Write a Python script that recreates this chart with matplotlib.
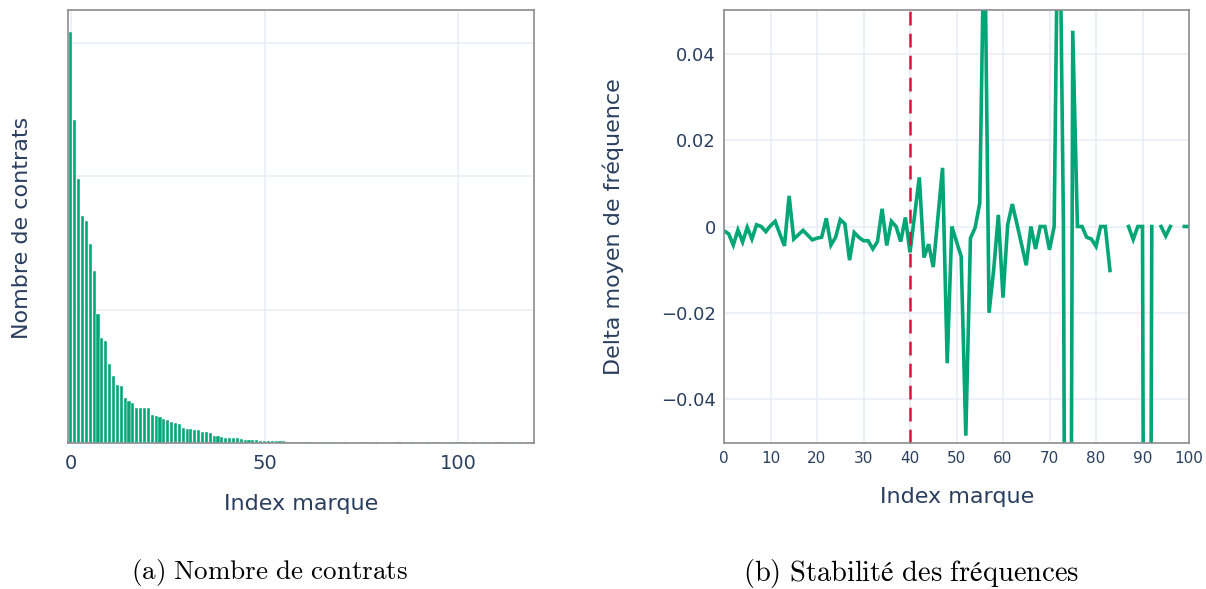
import numpy as np
import matplotlib
matplotlib.use("Agg")
import matplotlib.pyplot as plt
from matplotlib.ticker import FuncFormatter

# ---- data -------------------------------------------------------------
# Number of contracts per brand, brands sorted by index
contract_counts = [
    3085, 2421, 1978, 1700, 1662, 1496, 1293, 968, 790, 767,
    592, 504, 436, 429, 336, 316, 299, 265, 261, 261,
    261, 211, 203, 193, 178, 173, 159, 150, 140, 115,
    108, 103, 96, 95, 83, 82, 73, 55, 53, 43,
    38, 37, 37, 36, 30, 25, 25, 20, 20, 17,
    17, 15, 15, 15, 15, 14, 7, 6, 11, 11,
    10, 4, 4, 1, 1, 4, 1, 4, 1, 1,
    1, 4, 1, 1, 1, 4, 4, 1, 1, 4,
    1, 1, 1, 1, 4, 4, 1, 1, 4, 1,
    1, 1, 4, 1, 4, 4, 1, 1, 4, 1,
    4, 4, 4, 1, 4, 1, 1, 4, 4, 1,
    4, 4, 1, 4, 4, 1, 4, 1, 4, 4,
]

# Mean frequency delta per brand (gaps = brands without a value)
nan = np.nan
delta_freq = [
    -0.0010, -0.0017, -0.0043, -0.0008, -0.0036, -0.0002, -0.0029, 0.0004, 0.0000, -0.0012,
    0.0002, 0.0012, -0.0017, -0.0045, 0.0071, -0.0029, -0.0019, -0.0009, -0.0020, -0.0031,
    -0.0027, -0.0025, 0.0019, -0.0043, -0.0025, 0.0016, 0.0006, -0.0078, -0.0014, -0.0025,
    -0.0033, -0.0033, -0.0052, -0.0035, 0.0041, -0.0044, 0.0012, 0.0000, -0.0035, 0.0021,
    -0.0060, 0.0027, 0.0114, -0.0072, -0.0041, -0.0094, 0.0021, 0.0136, -0.0317, 0.0000,
    -0.0035, -0.0069, -0.0485, -0.0027, -0.0003, 0.0054, 0.0750, -0.0200, -0.0100, 0.0027,
    -0.0165, 0.0004, 0.0052, 0.0006, -0.0042, -0.0090, 0.0000, -0.0052, 0.0000, 0.0000,
    -0.0054, 0.0000, 0.0950, 0.0000, -0.3000, 0.0454, 0.0000, 0.0000, -0.0025, -0.0029,
    -0.0046, 0.0000, 0.0000, -0.0102, nan, nan, nan, 0.0000, -0.0030, 0.0000,
    0.0000, -0.3500, 0.0000, nan, 0.0000, -0.0022, 0.0000, nan, nan, 0.0000,
    0.0000,
]
split_index = 40

brand_index = np.arange(len(contract_counts))
delta_index = np.arange(len(delta_freq))

# ---- style ------------------------------------------------------------
GREEN = "#00a676"
RED = "#dc143c"
GRID = "#e9eef6"
FRAME = "#8c8c8c"
TEXT = "#2a3f5f"

plt.rcParams["font.family"] = ["DejaVu Sans"]
plt.rcParams["mathtext.fontset"] = "cm"

W, H = 1206, 589
fig = plt.figure(figsize=(W / 100, H / 100), dpi=100)
ax1 = fig.add_axes([68 / W, 1 - 443 / H, 466 / W, 433 / H])
ax2 = fig.add_axes([724 / W, 1 - 443 / H, 465 / W, 433 / H])

for ax in (ax1, ax2):
    ax.set_facecolor("white")
    for s in ax.spines.values():
        s.set_color(FRAME)
        s.set_linewidth(1.2)
    ax.grid(True, color=GRID, linewidth=1.2)
    ax.set_axisbelow(True)
    ax.tick_params(length=0, colors=TEXT)

# ---- (a) contracts per brand -------------------------------------------
ax1.bar(brand_index, contract_counts, width=0.8, color=GREEN,
        edgecolor="white", linewidth=0.3)
ax1.set_xlim(-0.75, 119.6)
ax1.set_ylim(0, 3248)
ax1.set_xticks([0, 50, 100])
ax1.set_yticks([1000, 2000, 3000])
ax1.set_yticklabels([])
ax1.tick_params(axis="x", labelsize=14, pad=8)
ax1.set_xlabel("Index marque", fontsize=16, color=TEXT)
ax1.xaxis.label.set_va("center")
ax1.xaxis.set_label_coords(0.5, -0.141)
ax1.set_ylabel("Nombre de contrats", fontsize=16, color=TEXT)
ax1.yaxis.label.set_va("center")
ax1.yaxis.set_label_coords(-0.099, 0.4965)

# ---- (b) frequency stability -------------------------------------------
ax2.plot(delta_index, delta_freq, color=GREEN, linewidth=2.6,
         solid_joinstyle="miter")
ax2.axvline(split_index, color=RED, linewidth=1.8, linestyle=(0, (5.5, 3.3)))
ax2.set_xlim(0, 100)
ax2.set_ylim(-0.0502, 0.0502)
ax2.set_xticks(np.arange(0, 101, 10))
ax2.set_yticks([-0.04, -0.02, 0, 0.02, 0.04])


def fmt_y(v, _pos):
    if abs(v) < 1e-12:
        return "0"
    return f"{v:.2f}".replace("-", "\u2212")


ax2.yaxis.set_major_formatter(FuncFormatter(fmt_y))
ax2.tick_params(axis="x", labelsize=11, pad=6)
ax2.tick_params(axis="y", labelsize=13, pad=6)
ax2.set_xlabel("Index marque", fontsize=16, color=TEXT)
ax2.xaxis.label.set_va("center")
ax2.xaxis.set_label_coords(0.501, -0.1247)
ax2.set_ylabel("Delta moyen de fréquence", fontsize=16, color=TEXT)
ax2.yaxis.label.set_va("center")
ax2.yaxis.set_label_coords(-0.2387, 0.5)

# ---- sub-figure captions ------------------------------------------------
fig.text(269 / W, 1 - 573 / H, r"$\mathrm{(a)\ Nombre\ de\ contrats}$",
         ha="center", va="center", fontsize=19.5, color="black")
fig.text(911 / W, 1 - 573 / H,
         r"$\mathrm{(b)\ Stabilité\ des\ fréquences}$",
         ha="center", va="center", fontsize=20.5, color="black")

fig.savefig("out.png", dpi=100, facecolor="white")
